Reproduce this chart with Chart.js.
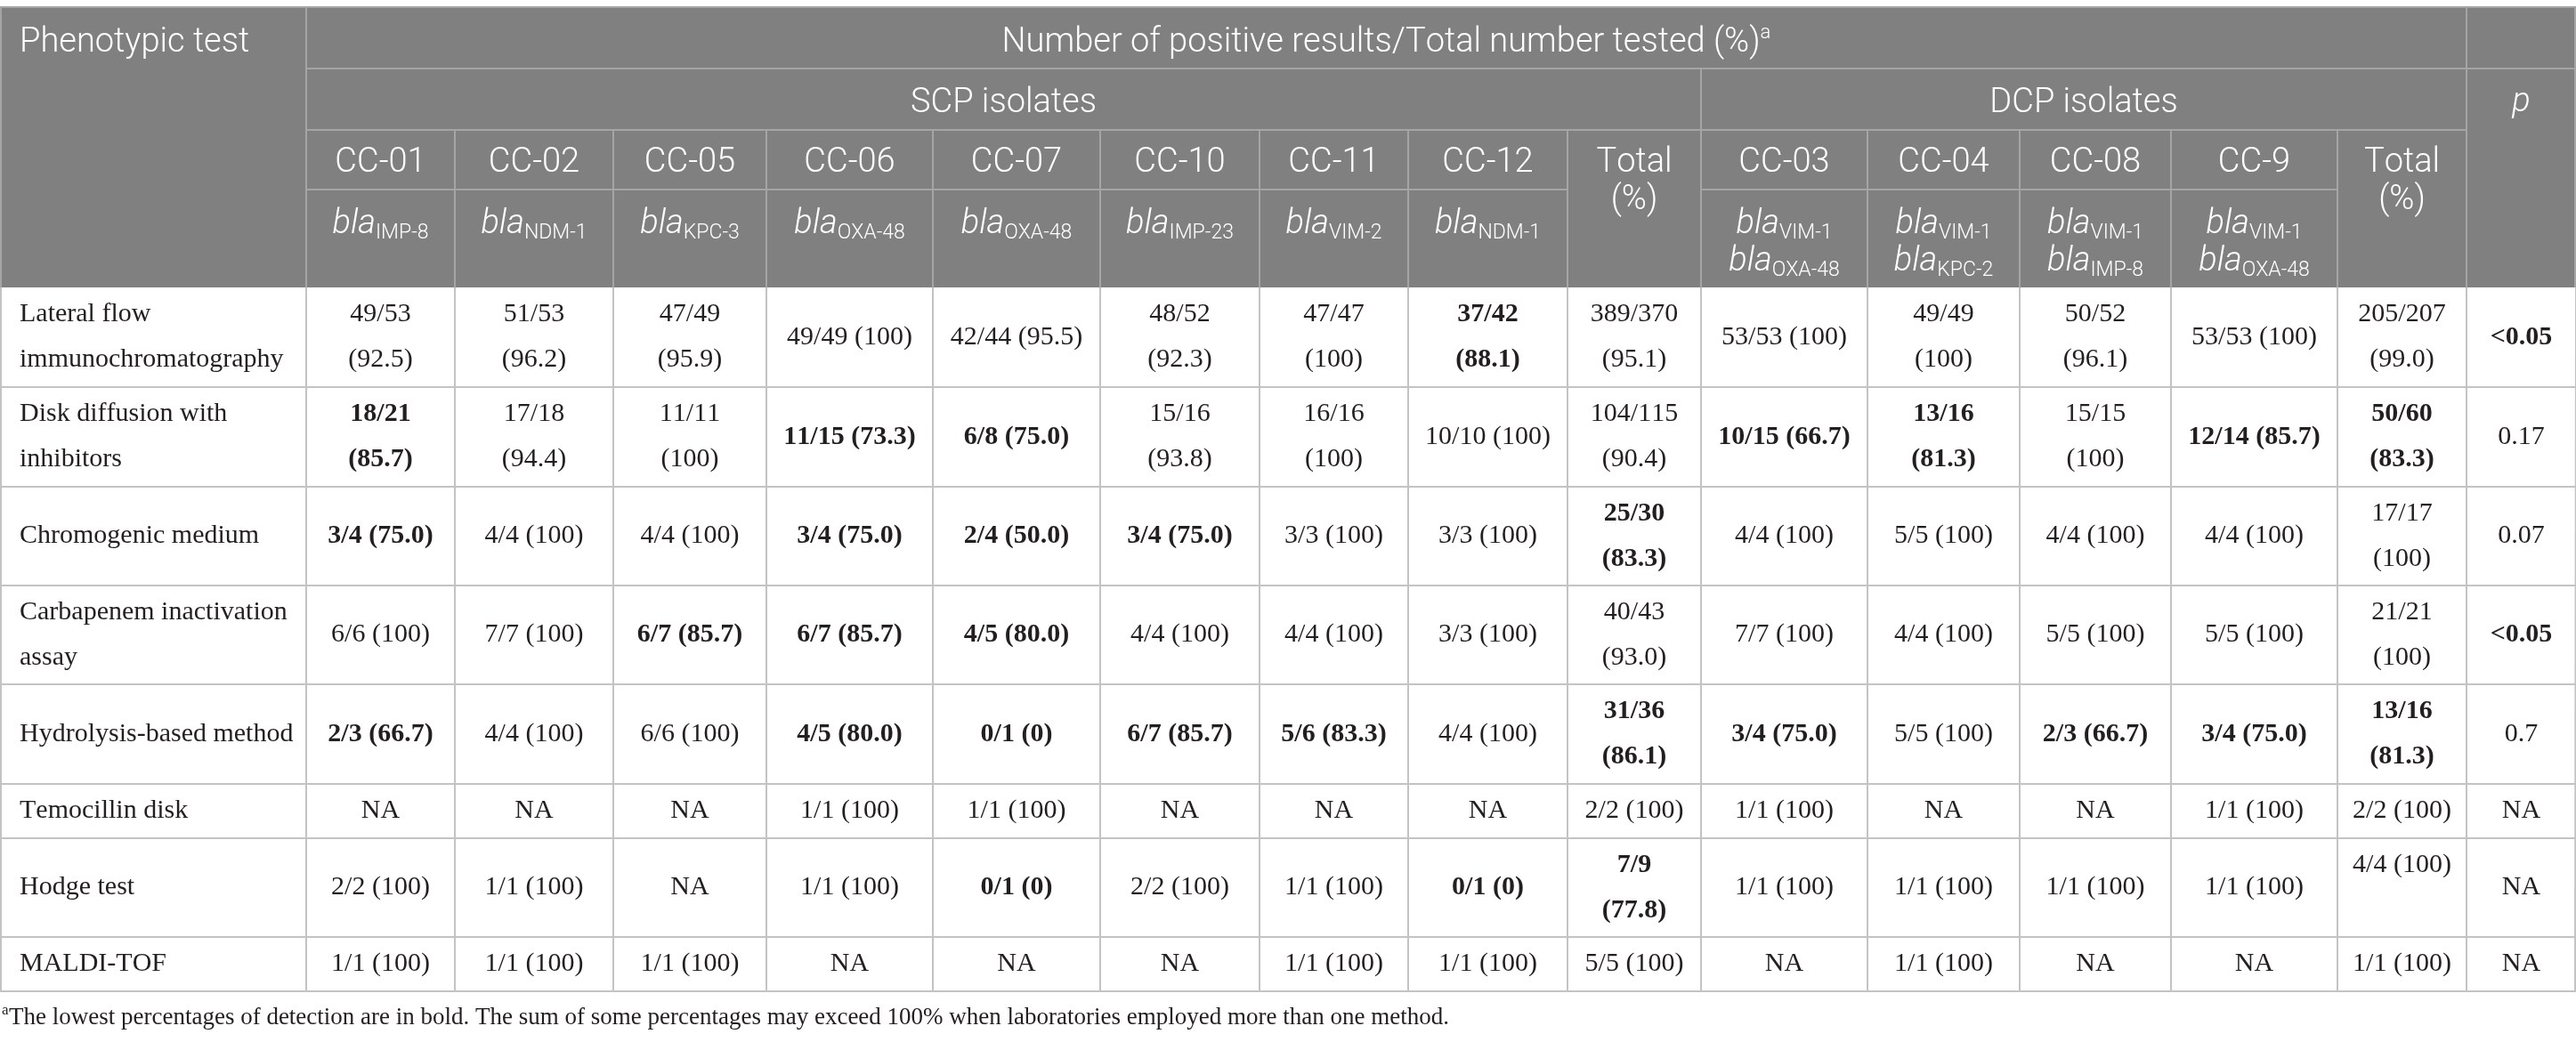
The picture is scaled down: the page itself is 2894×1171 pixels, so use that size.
<!DOCTYPE html>
<html>
<head>
<meta charset="utf-8">
<title>Phenotypic tests by clone</title>
<script src="https://cdn.jsdelivr.net/npm/chart.js@4.4.0/dist/chart.umd.min.js"></script>
<style>
  html, body { margin: 0; padding: 0; background: #fff; }
  #wrap { width: 2894px; height: 1171px; position: relative; }
</style>
</head>
<body>
<div id="wrap"><canvas id="myChart"></canvas></div>
<script>
// ---- data ----
const tests = [
    'Lateral flow immunochromatography',
    'Disk diffusion with inhibitors',
    'Chromogenic medium',
    'Carbapenem inactivation assay',
    'Hydrolysis-based method',
    'Temocillin disk',
    'Hodge test',
    'MALDI-TOF'
];

const scpClones = ['CC-01', 'CC-02', 'CC-05', 'CC-06', 'CC-07', 'CC-10', 'CC-11', 'CC-12'];
const scpGenes = [['IMP-8'], ['NDM-1'], ['KPC-3'], ['OXA-48'], ['OXA-48'], ['IMP-23'], ['VIM-2'], ['NDM-1']];
const dcpClones = ['CC-03', 'CC-04', 'CC-08', 'CC-9'];
const dcpGenes = [['VIM-1', 'OXA-48'], ['VIM-1', 'KPC-2'], ['VIM-1', 'IMP-8'], ['VIM-1', 'OXA-48']];

const scpResults = [
    ['49/53 (92.5)', '51/53 (96.2)', '47/49 (95.9)', '49/49 (100)', '42/44 (95.5)', '48/52 (92.3)', '47/47 (100)', '37/42 (88.1)'],
    ['18/21 (85.7)', '17/18 (94.4)', '11/11 (100)', '11/15 (73.3)', '6/8 (75.0)', '15/16 (93.8)', '16/16 (100)', '10/10 (100)'],
    ['3/4 (75.0)', '4/4 (100)', '4/4 (100)', '3/4 (75.0)', '2/4 (50.0)', '3/4 (75.0)', '3/3 (100)', '3/3 (100)'],
    ['6/6 (100)', '7/7 (100)', '6/7 (85.7)', '6/7 (85.7)', '4/5 (80.0)', '4/4 (100)', '4/4 (100)', '3/3 (100)'],
    ['2/3 (66.7)', '4/4 (100)', '6/6 (100)', '4/5 (80.0)', '0/1 (0)', '6/7 (85.7)', '5/6 (83.3)', '4/4 (100)'],
    ['NA', 'NA', 'NA', '1/1 (100)', '1/1 (100)', 'NA', 'NA', 'NA'],
    ['2/2 (100)', '1/1 (100)', 'NA', '1/1 (100)', '0/1 (0)', '2/2 (100)', '1/1 (100)', '0/1 (0)'],
    ['1/1 (100)', '1/1 (100)', '1/1 (100)', 'NA', 'NA', 'NA', '1/1 (100)', '1/1 (100)']
];
const scpTotals = ['389/370 (95.1)', '104/115 (90.4)', '25/30 (83.3)', '40/43 (93.0)', '31/36 (86.1)', '2/2 (100)', '7/9 (77.8)', '5/5 (100)'];

const dcpResults = [
    ['53/53 (100)', '49/49 (100)', '50/52 (96.1)', '53/53 (100)'],
    ['10/15 (66.7)', '13/16 (81.3)', '15/15 (100)', '12/14 (85.7)'],
    ['4/4 (100)', '5/5 (100)', '4/4 (100)', '4/4 (100)'],
    ['7/7 (100)', '4/4 (100)', '5/5 (100)', '5/5 (100)'],
    ['3/4 (75.0)', '5/5 (100)', '2/3 (66.7)', '3/4 (75.0)'],
    ['1/1 (100)', 'NA', 'NA', '1/1 (100)'],
    ['1/1 (100)', '1/1 (100)', '1/1 (100)', '1/1 (100)'],
    ['NA', '1/1 (100)', 'NA', 'NA']
];
const dcpTotals = ['205/207 (99.0)', '50/60 (83.3)', '17/17 (100)', '21/21 (100)', '13/16 (81.3)', '2/2 (100)', '4/4 (100)', '1/1 (100)'];
const pValues = ['<0.05', '0.17', '0.07', '<0.05', '0.7', 'NA', 'NA', 'NA'];

// lowest percentages (shown in bold): value column index per test row
// 0-7 SCP clones, 8 SCP total, 9-12 DCP clones, 13 DCP total, 14 p
const lowest = [
    [7, 14],
    [0, 3, 4, 9, 10, 12, 13],
    [0, 3, 4, 5, 8],
    [2, 3, 4, 14],
    [0, 3, 4, 5, 6, 8, 9, 11, 12, 13],
    [],
    [4, 7, 8],
    []
];

const title = 'Number of positive results/Total number tested (%)';
const footnote = 'The lowest percentages of detection are in bold. The sum of some percentages may exceed 100% when laboratories employed more than one method.';

// ---- layout (table units) ----
const W = 2894, H = 1171;
const colWidths = [344, 167, 178, 172, 187, 188, 179, 167, 179, 150, 187, 171, 170, 187, 145, 123];
const headRowHeights = [69, 69, 67, 110];
const bodyRowHeights = [112, 112, 111, 111, 112, 61, 111, 61];
const tableTop = 8;
// cells set on the upper line as in the source layout: [row, value column]
const topAligned = [[6, 13]];

const colEdges = [0];
colWidths.forEach(w => colEdges.push(colEdges[colEdges.length - 1] + w));
const headEdges = [tableTop];
headRowHeights.forEach(h => headEdges.push(headEdges[headEdges.length - 1] + h));
const bodyEdges = [headEdges[headEdges.length - 1]];
bodyRowHeights.forEach(h => bodyEdges.push(bodyEdges[bodyEdges.length - 1] + h));

const HEAD_BG = '#7f807f';
const HEAD_LINE = '#a4a5a4';
const BODY_LINE = '#c3c3c3';
const TEXT = '#231f20';
const SANS = 'Roboto';
const SERIF = '"Liberation Serif"';

function wrapText(ctx, text, maxW) {
    const words = text.split(' ');
    const lines = [];
    let cur = '';
    words.forEach(w => {
        const t = cur ? cur + ' ' + w : w;
        if (cur && ctx.measureText(t).width > maxW) {
            lines.push(cur);
            cur = w;
        } else {
            cur = t;
        }
    });
    lines.push(cur);
    return lines;
}

// draw a run of differently styled pieces, centred on cx
function drawRuns(ctx, runs, cx, base) {
    let total = 0;
    runs.forEach(r => { ctx.font = r.font; total += ctx.measureText(r.text).width; });
    let px = cx - total / 2;
    ctx.textAlign = 'left';
    runs.forEach(r => {
        ctx.font = r.font;
        ctx.fillText(r.text, px, base + (r.dy || 0));
        px += ctx.measureText(r.text).width;
    });
}

const tablePlugin = {
    id: 'tablePlugin',
    afterDraw(chart) {
        const ctx = chart.ctx;
        const xs = chart.scales.x, ys = chart.scales.y;
        const X = v => xs.getPixelForValue(v);
        const Y = v => ys.getPixelForValue(v);
        const dy = v => Y(v) - Y(0);
        const last = colEdges.length - 1;
        const hb = headEdges[4];

        ctx.save();
        ctx.fontKerning = 'none';

        // header background
        ctx.fillStyle = HEAD_BG;
        ctx.fillRect(X(0), Y(tableTop), X(colEdges[last]) - X(0), Y(hb) - Y(tableTop));

        const line = (x1, y1, x2, y2) => {
            ctx.beginPath();
            ctx.moveTo(X(x1), Y(y1));
            ctx.lineTo(X(x2), Y(y2));
            ctx.stroke();
        };

        // body grid
        ctx.strokeStyle = BODY_LINE;
        ctx.lineWidth = 2;
        bodyEdges.forEach((e, i) => { if (i > 0) line(0, e, colEdges[last], e); });
        colEdges.forEach(e => line(Math.max(e, 1), hb, Math.max(Math.min(e, colEdges[last] - 1), 1), bodyEdges[bodyEdges.length - 1]));

        // header grid
        ctx.strokeStyle = HEAD_LINE;
        line(0, tableTop, colEdges[last], tableTop);
        line(colEdges[last] - 1, tableTop, colEdges[last] - 1, hb);
        line(1, tableTop, 1, hb);
        line(colEdges[1], tableTop, colEdges[1], hb);
        line(colEdges[15], tableTop, colEdges[15], hb);
        line(colEdges[1], headEdges[1], colEdges[last], headEdges[1]);
        line(colEdges[1], headEdges[2], colEdges[15], headEdges[2]);
        line(colEdges[10], headEdges[1], colEdges[10], hb);
        line(colEdges[1], headEdges[3], colEdges[9], headEdges[3]);
        line(colEdges[10], headEdges[3], colEdges[14], headEdges[3]);
        [2, 3, 4, 5, 6, 7, 8, 9, 11, 12, 13, 14].forEach(c => line(colEdges[c], headEdges[2], colEdges[c], hb));

        // header text
        ctx.fillStyle = '#ffffff';
        ctx.textBaseline = 'alphabetic';
        const light = size => '300 ' + size + 'px ' + SANS;
        const lightIt = size => 'italic 300 ' + size + 'px ' + SANS;
        const mid = (a, b) => X((colEdges[a] + colEdges[b]) / 2);

        ctx.font = light(38);
        ctx.textAlign = 'left';
        ctx.fillText('Phenotypic test', X(22), Y(tableTop + 50));

        drawRuns(ctx, [
            { text: title, font: light(38) },
            { text: 'a', font: light(22), dy: dy(-15) }
        ], mid(1, 15), Y(tableTop + 50));

        ctx.textAlign = 'center';
        ctx.font = light(38);
        ctx.fillText('SCP isolates', mid(1, 10), Y(headEdges[1] + 49));
        ctx.fillText('DCP isolates', mid(10, 15), Y(headEdges[1] + 49));
        ctx.font = lightIt(38);
        ctx.fillText('p', mid(15, 16), Y(headEdges[1] + 48));

        const clones = [...scpClones, 'Total', ...dcpClones, 'Total'];
        const genes = [...scpGenes, null, ...dcpGenes, null];
        clones.forEach((c, i) => {
            const col = i + 1;
            const cx = mid(col, col + 1);
            ctx.font = light(38);
            ctx.textAlign = 'center';
            ctx.fillText(c, cx, Y(headEdges[2] + 47));
            if (c === 'Total') {
                ctx.fillText('(%)', cx, Y(headEdges[2] + 89));
                return;
            }
            genes[i].forEach((g, k) => {
                drawRuns(ctx, [
                    { text: 'bla', font: lightIt(38) },
                    { text: g, font: light(23), dy: dy(6) }
                ], cx, Y(headEdges[3] + 49 + k * 42));
            });
        });

        // body text
        ctx.fillStyle = TEXT;
        ctx.textBaseline = 'middle';
        const lineH = 51;
        tests.forEach((t, r) => {
            const cy = (bodyEdges[r] + bodyEdges[r + 1]) / 2;
            const cells = [t, ...scpResults[r], scpTotals[r], ...dcpResults[r], dcpTotals[r], pValues[r]];
            cells.forEach((txt, c) => {
                const bold = c > 0 && lowest[r].includes(c - 1);
                ctx.font = (bold ? 'bold ' : '') + '30px ' + SERIF;
                const maxW = c === 0 ? colWidths[0] - 26 : colWidths[c] - 32;
                const lines = wrapText(ctx, txt, maxW);
                const atTop = topAligned.some(p => p[0] === r && p[1] === c - 1);
                const n = atTop ? 2 : lines.length;
                lines.forEach((ln, k) => {
                    const ly = cy + (k - (n - 1) / 2) * lineH;
                    if (c === 0) {
                        ctx.textAlign = 'left';
                        ctx.fillText(ln, X(22), Y(ly));
                    } else {
                        ctx.textAlign = 'center';
                        ctx.fillText(ln, mid(c, c + 1), Y(ly));
                    }
                });
            });
        });

        // footnote
        ctx.textBaseline = 'alphabetic';
        ctx.textAlign = 'left';
        ctx.font = '17px ' + SERIF;
        ctx.fillText('a', X(2), Y(1140));
        ctx.font = '27px ' + SERIF;
        ctx.fillText(footnote, X(10), Y(1151));

        ctx.restore();
    }
};

const ctx = document.getElementById('myChart');

const myChart = new Chart(ctx, { // eslint-disable-line
    type: 'scatter',
    data: {
        datasets: []
    },
    options: {
        responsive: true,
        maintainAspectRatio: false,
        devicePixelRatio: 1,
        animation: false,
        layout: { padding: 0 },
        plugins: {
            legend: { display: false },
            tooltip: { enabled: false }
        },
        scales: {
            x: { type: 'linear', min: 0, max: W, display: false },
            y: { type: 'linear', min: 0, max: H, reverse: true, display: false }
        }
    },
    plugins: [tablePlugin]
});
</script>
</body>
</html>
